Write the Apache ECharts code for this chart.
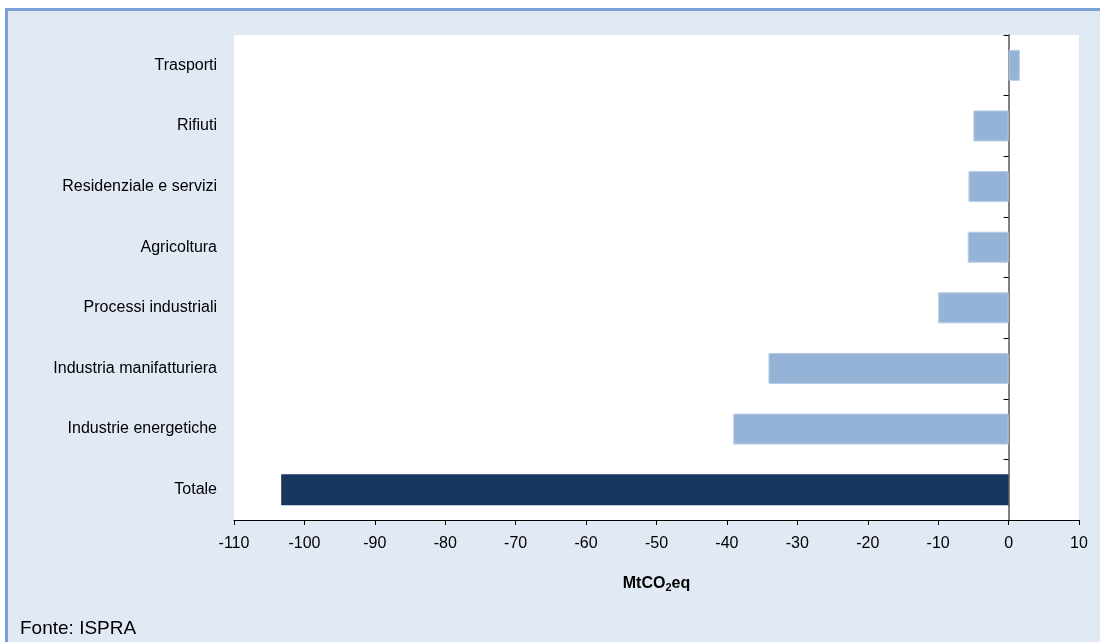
<!DOCTYPE html>
<html>
<head>
<meta charset="utf-8">
<script src="https://cdn.jsdelivr.net/npm/echarts@6/dist/echarts.min.js"></script>
<style>
  html, body { margin: 0; padding: 0; background: #ffffff; width: 1104px; height: 642px; overflow: hidden; }
  #frame {
    position: absolute; left: 5px; top: 8px; width: 1092px; height: 640px;
    background: #e1e9f5;
    border-top: 3px solid #7aa0d8; border-left: 3px solid #7aa0d8;
  }
  #chart { position: absolute; left: 0; top: 0; width: 1104px; height: 642px; }
</style>
</head>
<body>
<div id="frame"></div>
<div id="chart"></div>
<script>
// Settori emissivi (dal basso verso l'alto)
const categories = [
  'Totale',
  'Industrie energetiche',
  'Industria manifatturiera',
  'Processi industriali',
  'Agricoltura',
  'Residenziale e servizi',
  'Rifiuti',
  'Trasporti'
];
// Variazione delle emissioni, MtCO2eq
const values = [-103.3, -39.1, -34.1, -10.0, -5.8, -5.7, -5.0, 1.6];
const xTicks = { min: -110, max: 10, step: 10 };

const sectorColor = '#95b3d7';
const totalColor = '#17375e';

const chart = echarts.init(document.getElementById('chart'), null, { renderer: 'canvas' });

const barData = values.map((v, i) => ({
  value: v,
  itemStyle: categories[i] === 'Totale'
    ? { color: totalColor, borderColor: totalColor, borderWidth: 0 }
    : { color: sectorColor, borderColor: '#b9cde6', borderWidth: 1 }
}));

chart.setOption({
  animation: false,
  textStyle: { fontFamily: 'Liberation Sans, Arial, sans-serif' },
  grid: { left: 234, right: 25, top: 35, bottom: 122, backgroundColor: '#ffffff', show: true, borderWidth: 0 },
  xAxis: {
    type: 'value',
    min: xTicks.min, max: xTicks.max, interval: xTicks.step,
    splitLine: { show: false },
    axisLine: { show: true, onZero: false, lineStyle: { color: '#000000', width: 1 } },
    axisTick: { show: true, length: 5, lineStyle: { color: '#000000' } },
    axisLabel: { fontSize: 16, color: '#000000', margin: 16 },
    name: '{b|MtCO}{s|2}{b|eq}',
    nameLocation: 'middle',
    nameGap: 54,
    nameTextStyle: {
      rich: {
        b: { fontSize: 16, fontWeight: 'bold', color: '#000000', fontFamily: 'Liberation Sans, Arial, sans-serif' },
        s: { fontSize: 11, fontWeight: 'bold', color: '#000000', padding: [8, 0, 0, 0], fontFamily: 'Liberation Sans, Arial, sans-serif' }
      }
    }
  },
  yAxis: [
    {
      type: 'category',
      data: categories,
      position: 'left',
      axisLine: { show: false, onZero: false },
      axisTick: { show: false },
      axisLabel: { fontSize: 16, color: '#000000', margin: 17, padding: [4, 0, 0, 0] }
    },
    {
      type: 'category',
      data: categories,
      position: 'left',
      axisLine: { show: true, onZero: true, onZeroAxisIndex: 0, lineStyle: { color: '#808080', width: 2 } },
      axisTick: { show: true, length: 5, lineStyle: { color: '#000000', width: 1 } },
      axisLabel: { show: false }
    }
  ],
  series: [{
    type: 'bar',
    yAxisIndex: 0,
    data: barData,
    barWidth: 31
  }],
  graphic: [{
    type: 'text',
    left: 20,
    top: 619,
    style: { text: 'Fonte: ISPRA', fontSize: 19, fill: '#000000', fontFamily: 'Liberation Sans, Arial, sans-serif' }
  }]
});
</script>
</body>
</html>
